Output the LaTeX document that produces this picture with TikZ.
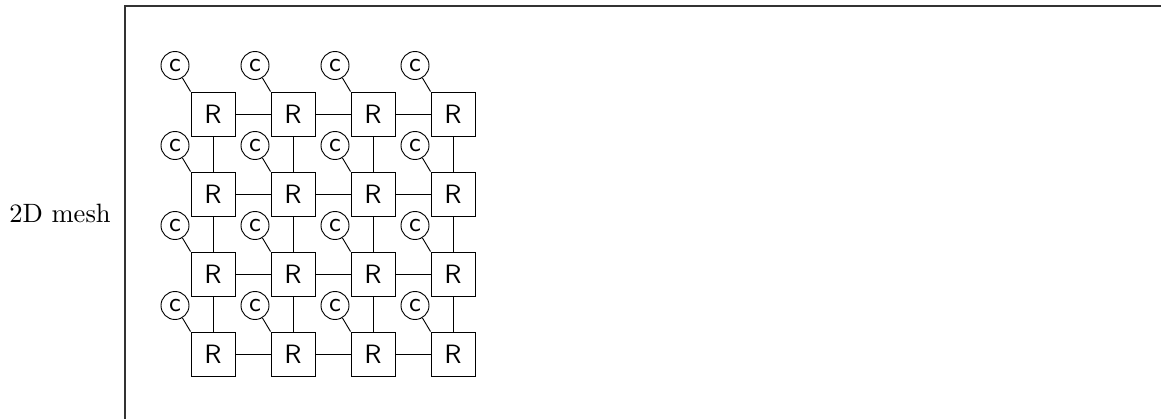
\documentclass[tikz,border=0pt]{standalone}
\begin{document}
\begin{tikzpicture}[x=0.377pt,y=-0.377pt,
  router/.style={draw,line width=0.35pt,minimum size=44*0.377pt,inner sep=0pt,font=\sffamily},
  core/.style={draw,circle,line width=0.35pt,minimum size=28*0.377pt,inner sep=0pt,font=\sffamily},
  link/.style={line width=0.35pt},
  rule/.style={line width=0.5pt,draw=black!80}]
\useasboundingbox (0,0) rectangle (1161,419);
\node[font=\rmfamily] (lbl) at (60,213) {2D mesh};
\coordinate (tl) at (125,6);
\coordinate (tr) at (1161,6);
\coordinate (bl) at (125,419);
\draw[rule] (bl) -- (tl) -- (tr);
\foreach \i in {0,1,2,3}{
  \foreach \j in {0,1,2,3}{
    \node[router] (r\i\j) at ({213+80*\i},{114+80*\j}) {R};
    \node[core] (c\i\j) at ({175+80*\i},{65.5+80*\j}) {c};
    \draw[link] (c\i\j) -- (r\i\j.north west);
  }
}
\foreach \j in {0,1,2,3}{
  \draw[link] (r0\j) -- (r1\j);
  \draw[link] (r1\j) -- (r2\j);
  \draw[link] (r2\j) -- (r3\j);
}
\foreach \i in {0,1,2,3}{
  \draw[link] (r\i0) -- (r\i1);
  \draw[link] (r\i1) -- (r\i2);
  \draw[link] (r\i2) -- (r\i3);
}
\end{tikzpicture}
\end{document}
